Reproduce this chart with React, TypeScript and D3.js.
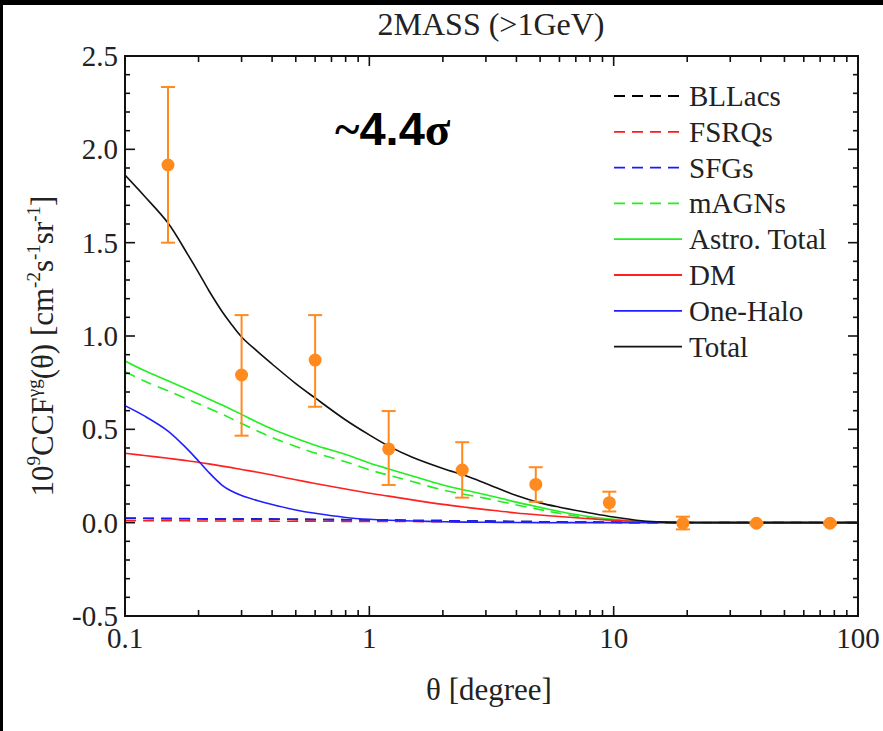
import React from "react";
import * as d3 from "d3";

// ---- Data ----
const dataTheta = [0.15, 0.3, 0.6, 1.2, 2.4, 4.8, 9.6, 19.2, 38.4, 76.8];
const dataValue = [1.916, 0.791, 0.871, 0.395, 0.282, 0.205, 0.107, -0.003, -0.003, -0.003];
const dataUpper = [2.334, 1.112, 1.112, 0.598, 0.431, 0.297, 0.166, 0.032, 0.004, 0.004];
const dataLower = [1.50, 0.466, 0.621, 0.202, 0.134, 0.112, 0.06, -0.036, -0.01, -0.01];

const curveTheta = [0.1, 0.12, 0.15, 0.18, 0.2, 0.22, 0.25, 0.27, 0.3, 0.35, 0.4, 0.5, 0.6, 0.8, 1.0, 1.2, 1.5, 2.0, 2.5, 3.0, 4.0, 5.0, 6.0, 8.0, 10, 13, 16, 20, 30, 50, 100];
const bllacs = [0.022, 0.022, 0.021, 0.021, 0.021, 0.02, 0.02, 0.02, 0.02, 0.02, 0.019, 0.018, 0.017, 0.016, 0.015, 0.014, 0.012, 0.011, 0.009, 0.008, 0.006, 0.005, 0.004, 0.003, 0.002, 0.001, 0.001, 0.0, 0.0, 0.0, 0.0];
const fsrqs = [0.01, 0.01, 0.01, 0.01, 0.009, 0.009, 0.009, 0.009, 0.009, 0.009, 0.008, 0.008, 0.008, 0.007, 0.007, 0.006, 0.006, 0.005, 0.004, 0.004, 0.003, 0.002, 0.002, 0.001, 0.001, 0.0, 0.0, 0.0, 0.0, 0.0, 0.0];
const sfgs = [0.025, 0.024, 0.023, 0.022, 0.021, 0.021, 0.02, 0.02, 0.02, 0.019, 0.019, 0.018, 0.017, 0.016, 0.015, 0.014, 0.012, 0.011, 0.009, 0.008, 0.006, 0.005, 0.004, 0.003, 0.002, 0.001, 0.001, 0.0, 0.0, 0.0, 0.0];
const magns = [0.809, 0.759, 0.706, 0.662, 0.637, 0.613, 0.581, 0.56, 0.531, 0.49, 0.456, 0.408, 0.373, 0.326, 0.283, 0.254, 0.22, 0.175, 0.15, 0.13, 0.095, 0.07, 0.05, 0.025, 0.013, 0.005, 0.001, 0.0, 0.0, 0.0, 0.0];
const astroTotal = [0.866, 0.815, 0.76, 0.715, 0.688, 0.663, 0.63, 0.609, 0.58, 0.537, 0.502, 0.452, 0.415, 0.365, 0.32, 0.288, 0.25, 0.202, 0.172, 0.15, 0.11, 0.082, 0.06, 0.032, 0.018, 0.007, 0.003, 0.001, 0.0, 0.0, 0.0];
const dmCurve = [0.372, 0.36, 0.345, 0.332, 0.323, 0.315, 0.303, 0.296, 0.285, 0.27, 0.255, 0.23, 0.21, 0.18, 0.158, 0.142, 0.122, 0.098, 0.082, 0.07, 0.052, 0.041, 0.033, 0.021, 0.013, 0.006, 0.003, 0.001, 0.0, 0.0, 0.0];
const oneHalo = [0.627, 0.572, 0.491, 0.394, 0.33, 0.27, 0.2, 0.172, 0.145, 0.117, 0.097, 0.068, 0.05, 0.028, 0.018, 0.013, 0.009, 0.005, 0.003, 0.002, 0.001, 0.0, 0.0, 0.0, 0.0, 0.0, 0.0, 0.0, 0.0, 0.0, 0.0];
const totalCurve = [1.862, 1.75, 1.605, 1.44, 1.34, 1.245, 1.13, 1.07, 0.995, 0.915, 0.85, 0.745, 0.668, 0.55, 0.47, 0.41, 0.35, 0.29, 0.25, 0.21, 0.145, 0.106, 0.083, 0.052, 0.03, 0.01, 0.003, 0.001, 0.0, 0.0, 0.0];

const xTickValues = [0.1, 1, 10, 100];
const xTickLabels = ["0.1", "1", "10", "100"];
const yTickValues = [-0.5, 0.0, 0.5, 1.0, 1.5, 2.0, 2.5];
const yTickLabels = ["-0.5", "0.0", "0.5", "1.0", "1.5", "2.0", "2.5"];

const legendNames = ["BLLacs", "FSRQs", "SFGs", "mAGNs", "Astro. Total", "DM", "One-Halo", "Total"];
const legendColors = ["#000000", "#ff1a1a", "#1a1aff", "#22ee22", "#22ee22", "#ff2020", "#2020ff", "#111111"];
const legendDashed = [true, true, true, true, false, false, false, false];

const W = 883, H = 731;
const X0 = 125, X1 = 858, Y0 = 56, Y1 = 616;
const serif = "'Liberation Serif', 'Times New Roman', serif";

export default function App() {
  const x = d3.scaleLog().domain([0.1, 100]).range([X0, X1]);
  const y = d3.scaleLinear().domain([-0.5, 2.5]).range([Y1, Y0]);

  const seriesList = [bllacs, fsrqs, sfgs, magns, astroTotal, dmCurve, oneHalo, totalCurve];
  const line = d3
    .line<number>()
    .x((_, i) => x(curveTheta[i]))
    .y((d) => y(d))
    .curve(d3.curveCatmullRom.alpha(0.5));

  const minorX: number[] = [];
  for (const dec of [0.1, 1, 10]) for (let k = 2; k <= 9; k++) minorX.push(dec * k);
  const minorY: number[] = d3.range(-5, 26).map((v) => v / 10).filter((v) => Math.abs(v * 2 - Math.round(v * 2)) > 1e-6);

  const drawOrder = [0, 1, 2, 3, 4, 5, 6, 7];

  const legX0 = 614, legX1 = 682, legTextX = 689, legY0 = 96, legDy = 35.8;

  return (
    <svg width={W} height={H} style={{ position: "absolute", left: 0, top: 0 }}>
      <rect x={0} y={0} width={W} height={H} fill="#000" />
      <rect x={3} y={5} width={W - 3} height={H - 5} fill="#fff" />

      {/* title */}
      <text x={491} y={35} textAnchor="middle" fontFamily={serif} fontSize={32} fill="#222">2MASS (&gt;1GeV)</text>

      <defs>
        <clipPath id="plotclip">
          <rect x={X0} y={Y0} width={X1 - X0} height={Y1 - Y0} />
        </clipPath>
      </defs>

      {/* curves */}
      <g clipPath="url(#plotclip)">
        {drawOrder.map((i) => (
          <path
            key={i}
            d={line(seriesList[i]) || ""}
            fill="none"
            stroke={legendColors[i]}
            strokeWidth={1.6}
            strokeDasharray={legendDashed[i] ? "11,7" : undefined}
          />
        ))}
      </g>

      {/* data points */}
      <g>
        {dataTheta.map((t, i) => (
          <g key={i} stroke="#ff8a1e" fill="#ff8a1e">
            <line x1={x(t)} x2={x(t)} y1={y(dataUpper[i])} y2={y(dataLower[i])} strokeWidth={2} />
            <line x1={x(t) - 7} x2={x(t) + 7} y1={y(dataUpper[i])} y2={y(dataUpper[i])} strokeWidth={2} />
            <line x1={x(t) - 7} x2={x(t) + 7} y1={y(dataLower[i])} y2={y(dataLower[i])} strokeWidth={2} />
            <circle cx={x(t)} cy={y(dataValue[i])} r={6.5} stroke="none" />
          </g>
        ))}
      </g>

      {/* frame */}
      <rect x={X0} y={Y0} width={X1 - X0} height={Y1 - Y0} fill="none" stroke="#111" strokeWidth={2} />

      {/* x ticks */}
      {xTickValues.map((v) => (
        <g key={"xt" + v}>
          <line x1={x(v)} x2={x(v)} y1={Y1} y2={Y1 - 10} stroke="#111" strokeWidth={1.6} />
          <line x1={x(v)} x2={x(v)} y1={Y0} y2={Y0 + 10} stroke="#111" strokeWidth={1.6} />
        </g>
      ))}
      {minorX.map((v) => (
        <g key={"xm" + v}>
          <line x1={x(v)} x2={x(v)} y1={Y1} y2={Y1 - 6} stroke="#111" strokeWidth={1.6} />
          <line x1={x(v)} x2={x(v)} y1={Y0} y2={Y0 + 6} stroke="#111" strokeWidth={1.6} />
        </g>
      ))}
      {xTickValues.map((v, i) => (
        <text key={"xl" + v} x={x(v)} y={648} textAnchor="middle" fontFamily={serif} fontSize={29} fill="#222">
          {xTickLabels[i]}
        </text>
      ))}

      {/* y ticks */}
      {yTickValues.map((v) => (
        <g key={"yt" + v}>
          <line x1={X0} x2={X0 + 10} y1={y(v)} y2={y(v)} stroke="#111" strokeWidth={1.6} />
          <line x1={X1} x2={X1 - 10} y1={y(v)} y2={y(v)} stroke="#111" strokeWidth={1.6} />
        </g>
      ))}
      {minorY.map((v) => (
        <g key={"ym" + v}>
          <line x1={X0} x2={X0 + 5} y1={y(v)} y2={y(v)} stroke="#111" strokeWidth={1.6} />
          <line x1={X1} x2={X1 - 5} y1={y(v)} y2={y(v)} stroke="#111" strokeWidth={1.6} />
        </g>
      ))}
      {yTickValues.map((v, i) => (
        <text key={"yl" + v} x={118} y={y(v) + 10} textAnchor="end" fontFamily={serif} fontSize={29} fill="#222">
          {yTickLabels[i]}
        </text>
      ))}

      {/* axis labels */}
      <text x={489} y={700} textAnchor="middle" fontFamily={serif} fontSize={31} fill="#222">θ [degree]</text>
      <text transform="translate(53,346) rotate(-90)" textAnchor="middle" fontFamily={serif} fontSize={31} fill="#222">
        10<tspan fontSize={19} dy={-13}>9</tspan>
        <tspan dy={13}>CCF</tspan>
        <tspan fontSize={19} dy={-13}>γg</tspan>
        <tspan dy={13}>(θ) [cm</tspan>
        <tspan fontSize={19} dy={-13}>-2</tspan>
        <tspan dy={13}>s</tspan>
        <tspan fontSize={19} dy={-13}>-1</tspan>
        <tspan dy={13}>sr</tspan>
        <tspan fontSize={19} dy={-13}>-1</tspan>
        <tspan dy={13}>]</tspan>
      </text>

      {/* significance annotation */}
      <text x={335} y={145} fontFamily="'Liberation Sans', Arial, sans-serif" fontWeight="bold" fontSize={47} fill="#000">
        <tspan fontFamily={serif}>~</tspan>4.4<tspan fontFamily={serif}>σ</tspan>
      </text>

      {/* legend */}
      {legendNames.map((name, i) => (
        <g key={name}>
          <line
            x1={legX0}
            x2={legX1}
            y1={legY0 + i * legDy}
            y2={legY0 + i * legDy}
            stroke={legendColors[i]}
            strokeWidth={1.8}
            strokeDasharray={legendDashed[i] ? "11,7" : undefined}
          />
          <text x={legTextX} y={legY0 + i * legDy + 10} fontFamily={serif} fontSize={29} fill="#222">
            {name}
          </text>
        </g>
      ))}
    </svg>
  );
}
